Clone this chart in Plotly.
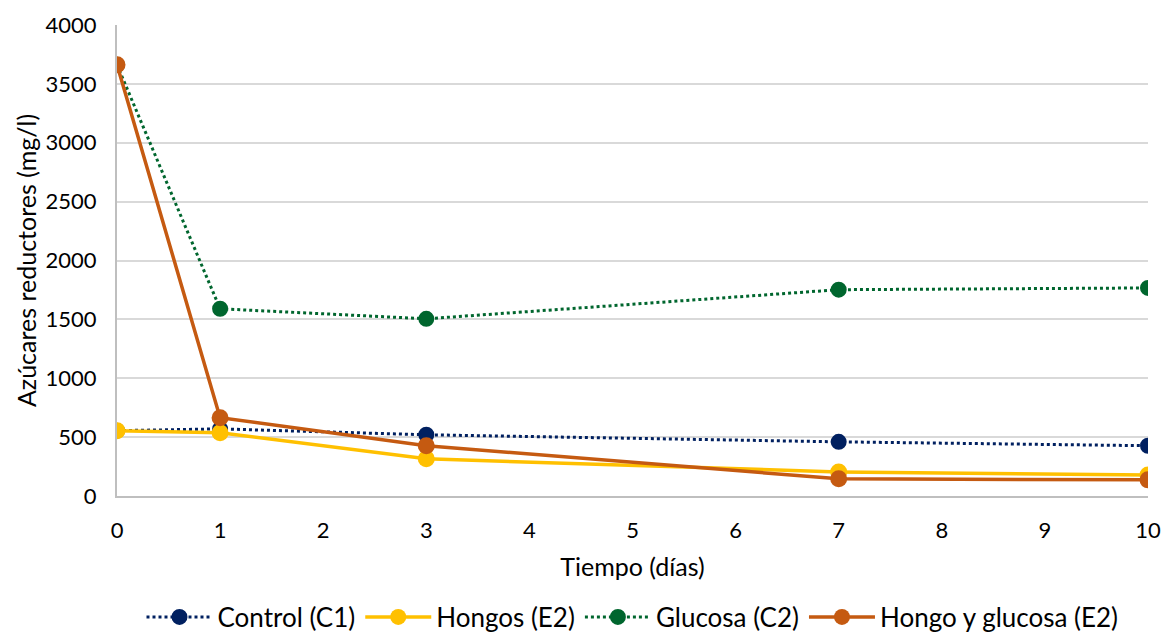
import plotly.graph_objects as go

dias = [0, 1, 3, 7, 10]
control_c1 = [555, 570, 520, 460, 427]
hongos_e2 = [555, 538, 316, 204, 178]
glucosa_c2 = [3662, 1590, 1505, 1752, 1767]
hongo_glucosa_e2 = [3662, 665, 427, 146, 137]

names = ["Control (C1)", "Hongos (E2)", "Glucosa (C2)", "Hongo y glucosa (E2)"]
series = [control_c1, hongos_e2, glucosa_c2, hongo_glucosa_e2]
colors = ["#002060", "#FFC000", "#00662E", "#C55A11"]
dashes = ["dot", "solid", "dot", "solid"]

fig = go.Figure()
for n, s, c, d in zip(names, series, colors, dashes):
    dotted = d == "dot"
    fig.add_trace(go.Scatter(
        x=dias, y=s, name=n, mode="lines+markers",
        line=dict(color=c, width=3.5 if not dotted else 3, dash=d),
        marker=dict(symbol="circle", size=14 if dotted else 17, color=c,
                    line=dict(color=c, width=2 if dotted else 0)),
    ))

font = "Lato, 'Open Sans', sans-serif"
fig.update_layout(
    width=1163, height=634,
    margin=dict(l=117, r=15, t=25, b=138, autoexpand=False),
    paper_bgcolor="white", plot_bgcolor="white",
    font=dict(family=font, size=22, color="#000000"),
    showlegend=True,
    legend=dict(orientation="h", x=0.5, xanchor="center",
                y=-0.257, yanchor="middle",
                font=dict(size=26), itemwidth=66, tracegroupgap=0),
    xaxis=dict(range=[0, 10], tickmode="array", tickvals=list(range(11)),
               showgrid=False, zeroline=False, showline=True,
               linecolor="#BFBFBF", linewidth=2, ticks="",
               tickfont=dict(size=22), ticklabelstandoff=14,
               title=dict(text="Tiempo (días)", font=dict(size=25), standoff=16)),
    yaxis=dict(range=[0, 4000], tickmode="array", tickvals=list(range(0, 4001, 500)),
               showgrid=True, gridcolor="#D9D9D9", gridwidth=2, zeroline=False,
               showline=True, linecolor="#BFBFBF", linewidth=2, ticks="",
               tickfont=dict(size=22), ticklabelstandoff=14,
               title=dict(text="Azúcares reductores (mg/l)", font=dict(size=25), standoff=2)),
)

fig.write_html("out.html")
